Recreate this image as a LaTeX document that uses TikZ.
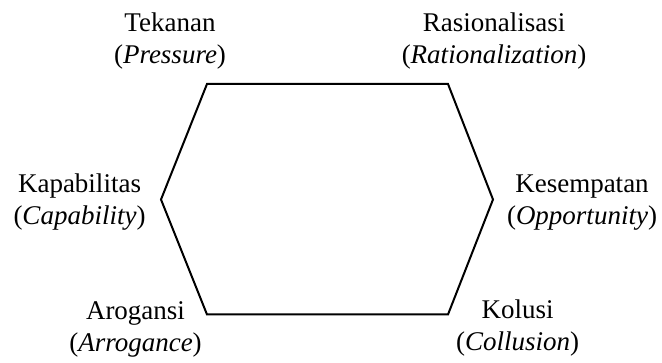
\documentclass[tikz,border=0pt]{standalone}
\usepackage{fontspec}
\setmainfont{Liberation Serif}
\usepackage{tikz}
\usetikzlibrary{positioning}

\begin{document}
\begin{tikzpicture}[x=1pt, y=1pt,
                    lbl/.style={align=center, anchor=base, inner sep=0pt,
                                font=\fontsize{27}{31.5}\selectfont}]
\useasboundingbox (0,0) rectangle (662,363);
\foreach \n/\x/\y in {tl/207/279, tr/448/279, r/493/163.5,
                      br/448/48.5, bl/207/48.5, l/161/163.5} {
  \coordinate (\n) at (\x,\y);
}
\draw[line width=2pt] (tl) -- (tr) -- (r) -- (br) -- (bl) -- (l) -- cycle;
\foreach \n/\x/\y/\a/\b in {tek/170/299.8/Tekanan/Pressure,
                            ras/494/299.8/Rasionalisasi/Rationalization,
                            kap/79.5/138.8/Kapabilitas/Capability,
                            kes/582/138.8/Kesempatan/Opportunity,
                            aro/135.5/11.5/Arogansi/Arrogance,
                            kol/517.6/12.5/Kolusi/Collusion} {
  \node[lbl] (\n) at (\x,\y) {\a\\(\textit{\b})};
}
\end{tikzpicture}
\end{document}
